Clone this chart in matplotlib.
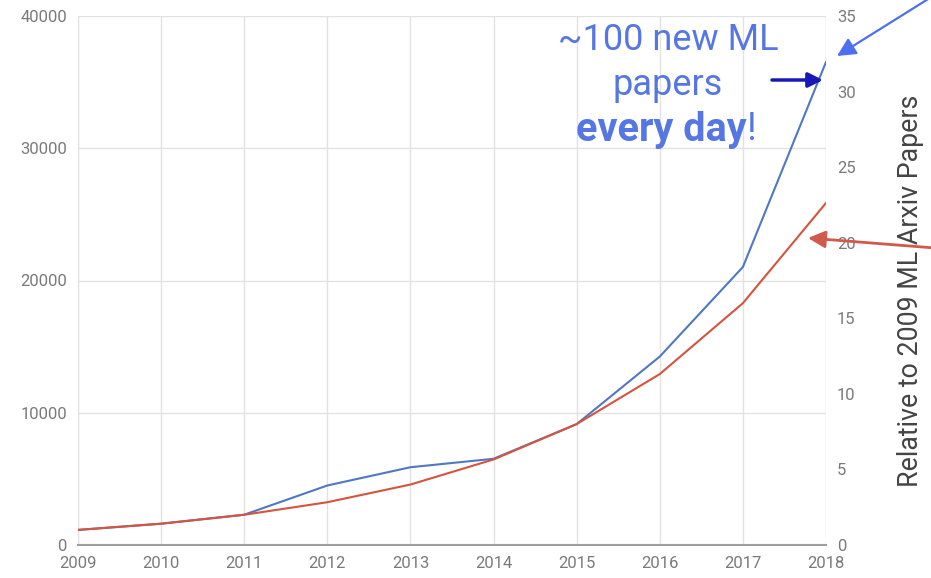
import matplotlib
matplotlib.use("Agg")
import matplotlib.pyplot as plt

plt.rcParams["font.family"] = ["Roboto", "DejaVu Sans"]

years = [2009, 2010, 2011, 2012, 2013, 2014, 2015, 2016, 2017, 2018]
# ML arxiv papers per year (left axis)
arxiv_papers = [1140, 1610, 2290, 4500, 5880, 6520, 9140, 14250, 21020, 36520]
# Moore's law growth, relative to 2009 (right axis)
moore_relative = [1.0, 1.41, 2.0, 2.83, 4.0, 5.66, 8.0, 11.31, 16.0, 22.63]

left_ticks = [0, 10000, 20000, 30000, 40000]
right_ticks = [0, 5, 10, 15, 20, 25, 30, 35]

blue = "#4f78c4"
red = "#d4543f"
tick_c = "#7a7a7a"
grid_c = "#e2e2e2"

fig = plt.figure(figsize=(9.31, 5.78), dpi=100)
ax = fig.add_axes([78 / 931, 33 / 578, 748 / 931, 529 / 578])
ax2 = ax.twinx()

ax.plot(years, arxiv_papers, color=blue, lw=1.5, zorder=3)
ax2.plot(years, moore_relative, color=red, lw=1.5, zorder=3)

ax.set_xlim(years[0], years[-1])
ax.set_ylim(0, 40000)
ax2.set_ylim(0, 35)
ax.set_xticks(years)
ax.set_yticks(left_ticks)
ax2.set_yticks(right_ticks)

ax.grid(True, color=grid_c, lw=1)
for a in (ax, ax2):
    for s in a.spines.values():
        s.set_visible(False)
ax.spines["bottom"].set_visible(True)
ax.spines["bottom"].set_color("#9e9e9e")
ax.spines["bottom"].set_linewidth(1.5)
ax.spines["left"].set_visible(True)
ax.spines["left"].set_color(grid_c)

ax.tick_params(axis="both", length=0, labelsize=12, labelcolor=tick_c)
ax.tick_params(axis="y", pad=8)
ax.tick_params(axis="x", pad=8)
ax2.tick_params(axis="y", length=0, labelsize=12, labelcolor=tick_c, pad=8)

# right axis title
fig.text(911 / 931, 1 - 291 / 578, "Relative to 2009 ML Arxiv Papers",
         rotation=90, ha="center", va="center", fontsize=19.3, color="#444444")

# annotation text
txt_c = "#5677e3"
fig.text(668 / 931, 1 - 40 / 578, "~100 new ML", ha="center", va="center",
         fontsize=26, color=txt_c)
fig.text(668 / 931, 1 - 85 / 578, "papers", ha="center", va="center",
         fontsize=26, color=txt_c)
fig.text(747 / 931, 1 - 130 / 578, "every day", ha="right", va="center",
         fontsize=28.5, color=txt_c, fontweight="bold")
fig.text(747 / 931, 1 - 130 / 578, "!", ha="left", va="center",
         fontsize=27, color=txt_c)

# arrows
ax2.annotate("", xy=(837, 578 - 56), xycoords="figure pixels",
             xytext=(933, 578 + 4), textcoords="figure pixels",
             arrowprops=dict(arrowstyle="-|>", color="#4f6ff2", lw=1.6,
                             mutation_scale=28, shrinkA=0, shrinkB=0),
             annotation_clip=False)
ax2.annotate("", xy=(823, 578 - 80), xycoords="figure pixels",
             xytext=(772, 578 - 80), textcoords="figure pixels",
             arrowprops=dict(arrowstyle="-|>", color="#1818b8", lw=2.5,
                             mutation_scale=22, shrinkA=0, shrinkB=0),
             annotation_clip=False)
ax2.annotate("", xy=(808, 578 - 238), xycoords="figure pixels",
             xytext=(935, 578 - 248), textcoords="figure pixels",
             arrowprops=dict(arrowstyle="-|>", color="#d0594a", lw=2,
                             mutation_scale=26, shrinkA=0, shrinkB=0),
             annotation_clip=False)

fig.savefig("out.png", dpi=100)
